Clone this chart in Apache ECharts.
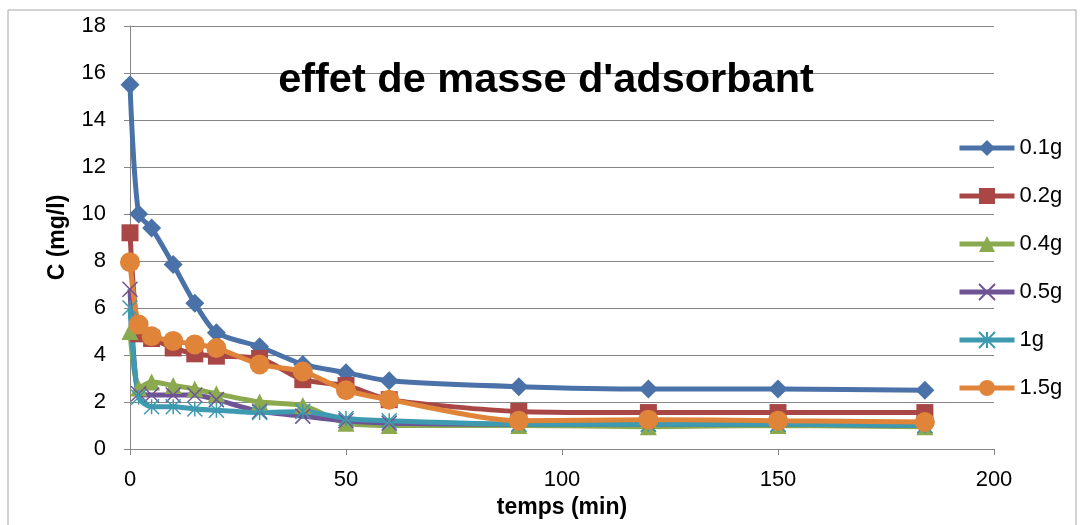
<!DOCTYPE html>
<html>
<head>
<meta charset="utf-8">
<script src="https://cdn.jsdelivr.net/npm/echarts@6/dist/echarts.min.js"></script>
<style>
  html, body { margin: 0; padding: 0; background: #ffffff; }
  #chart { width: 1083px; height: 525px; }
</style>
</head>
<body>
<div id="chart"></div>
<script>
// Contact time (min)
const temps = [0, 2, 5, 10, 15, 20, 30, 40, 50, 60, 90, 120, 150, 184];

// Residual concentration C (mg/l) for each adsorbent mass
const c01g = [15.5, 10.0, 9.4, 7.85, 6.2, 4.95, 4.35, 3.6, 3.25, 2.9, 2.65, 2.55, 2.55, 2.5];
const c02g = [9.2, 4.9, 4.7, 4.3, 4.05, 3.95, 3.85, 2.95, 2.7, 2.1, 1.6, 1.55, 1.55, 1.55];
const c04g = [5.0, 2.6, 2.85, 2.7, 2.55, 2.35, 2.0, 1.85, 1.1, 1.0, 1.0, 0.95, 1.0, 0.95];
const c05g = [6.8, 2.35, 2.3, 2.3, 2.3, 2.1, 1.6, 1.4, 1.2, 1.1, 1.05, 1.05, 1.05, 1.0];
const c1g  = [6.0, 2.2, 1.8, 1.8, 1.7, 1.65, 1.55, 1.6, 1.3, 1.2, 1.05, 1.05, 1.05, 1.0];
const c15g = [7.95, 5.3, 4.8, 4.6, 4.45, 4.3, 3.6, 3.3, 2.5, 2.1, 1.2, 1.25, 1.2, 1.15];

const seriesNames = ['0.1g', '0.2g', '0.4g', '0.5g', '1g', '1.5g'];
const seriesValues = [c01g, c02g, c04g, c05g, c1g, c15g];

const colors = ['#4A72A8', '#A84745', '#8BAA4F', '#6F5495', '#3D9AB0', '#E0843A'];
const crossPath = 'path://M0,0L10,10M10,0L0,10';
const starPath = 'path://M0,0L10,10M10,0L0,10M5,0L5,10';
const markers = [
  { symbol: 'diamond', size: 19, stroke: 0 },
  { symbol: 'rect', size: 17, stroke: 0 },
  { symbol: 'triangle', size: 17, stroke: 0 },
  { symbol: crossPath, size: 15, stroke: 1.5 },
  { symbol: starPath, size: 15, stroke: 1.5 },
  { symbol: 'circle', size: 20, stroke: 0 }
];

const font = 'Liberation Sans, Arial, sans-serif';

const chart = echarts.init(document.getElementById('chart'), null, { renderer: 'canvas' });

const series = seriesNames.map((name, i) => ({
  name: name,
  type: 'line',
  data: temps.map((t, k) => [t, seriesValues[i][k]]),
  smooth: 0.25,
  symbol: markers[i].symbol,
  symbolSize: markers[i].size,
  showAllSymbol: true,
  lineStyle: { color: colors[i], width: 5 },
  itemStyle: {
    color: colors[i],
    borderColor: colors[i],
    borderWidth: markers[i].stroke
  },
  emphasis: { disabled: true },
  animation: false
}));

chart.setOption({
  animation: false,
  color: colors,
  graphic: [{
    type: 'rect',
    shape: { x: 8, y: 10, width: 1068, height: 520 },
    style: { fill: 'none', stroke: '#A6A6A6', lineWidth: 1 },
    silent: true
  }],
  title: {
    text: "effet de masse d'adsorbant",
    left: 541,
    top: 55,
    textAlign: 'center',
    textStyle: { fontFamily: font, fontWeight: 'bold', fontSize: 41.5, color: '#000000' }
  },
  legend: {
    orient: 'vertical',
    left: 952,
    top: 132,
    itemWidth: 55,
    itemHeight: 20,
    itemGap: 26,
    lineStyle: { width: 5 },
    textStyle: { fontFamily: font, fontSize: 22, lineHeight: 22, color: '#000000' },
    data: seriesNames
  },
  grid: { left: 130, right: 89, top: 26, bottom: 76, containLabel: false },
  xAxis: {
    type: 'value',
    min: 0, max: 200, interval: 50,
    name: 'temps (min)',
    nameLocation: 'middle',
    nameGap: 42,
    nameTextStyle: { fontFamily: font, fontWeight: 'bold', fontSize: 23, color: '#000000' },
    axisLine: { show: true, lineStyle: { color: '#868686', width: 1 } },
    axisTick: { show: true, length: 6, lineStyle: { color: '#868686' } },
    axisLabel: { fontFamily: font, fontSize: 22, color: '#000000', margin: 20 },
    splitLine: { show: false }
  },
  yAxis: {
    type: 'value',
    min: 0, max: 18, interval: 2,
    name: 'C (mg/l)',
    nameLocation: 'middle',
    nameGap: 61,
    nameTextStyle: { fontFamily: font, fontWeight: 'bold', fontSize: 23, color: '#000000' },
    axisLine: { show: true, lineStyle: { color: '#868686', width: 1 } },
    axisTick: { show: true, length: 6, lineStyle: { color: '#868686' } },
    axisLabel: { fontFamily: font, fontSize: 22, color: '#000000', margin: 24 },
    splitLine: { show: true, lineStyle: { color: '#868686', width: 1 } }
  },
  series: series
});
</script>
</body>
</html>
